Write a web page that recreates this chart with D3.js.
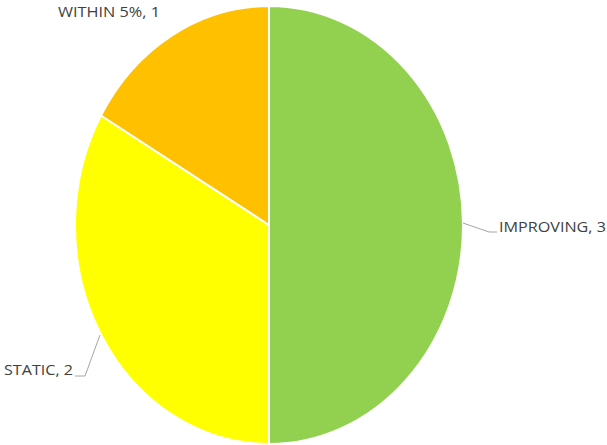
<!DOCTYPE html>
<html><head><meta charset="utf-8">
<script src="https://cdn.jsdelivr.net/npm/d3@7"></script>
<style>html,body{margin:0;padding:0;background:#fff;}</style>
</head><body>
<svg id="c" width="607" height="445"></svg>
<script>
const categories = ["IMPROVING", "STATIC", "WITHIN 5%"];
const values = [3, 2, 1];
const colors = ["#92D050", "#FFFF00", "#FFC000"];

const svg = d3.select("#c");
const cx = 269, cy = 225, rx = 194, ry = 219;

const pie = d3.pie().sort(null).value(d => d)(values);
const arc = d3.arc().innerRadius(0).outerRadius(1);

const g = svg.append("g").attr("transform", `translate(${cx},${cy}) scale(${rx},${ry})`);
g.selectAll("path").data(pie).join("path")
  .attr("d", arc)
  .attr("fill", (d, i) => colors[i])
  .attr("stroke", "#fff")
  .attr("stroke-width", 2)
  .attr("vector-effect", "non-scaling-stroke");

// labels with leader lines
const labelInfo = [
  {x: 499, y: 232, anchor: "start", w: 107, line: [[463, 223], [489, 232], [497, 232]]},
  {x: 4, y: 375, anchor: "start", w: 69, line: [[100, 335], [85, 376], [75, 376]]},
  {x: 58, y: 17, anchor: "start", w: 102, line: null}
];
labelInfo.forEach((L, i) => {
  if (L.line) {
    svg.append("path")
      .attr("d", d3.line()(L.line))
      .attr("fill", "none")
      .attr("stroke", "#A6A6A6")
      .attr("stroke-width", 1);
  }
  svg.append("text")
    .attr("x", L.x).attr("y", L.y)
    .attr("text-anchor", L.anchor)
    .attr("font-family", "'Open Sans', sans-serif")
    .attr("font-size", 15)
    .attr("fill", "#404040")
    .attr("textLength", L.w)
    .attr("lengthAdjust", "spacingAndGlyphs")
    .text(`${categories[i]}, ${values[i]}`);
});
</script>
</body></html>
